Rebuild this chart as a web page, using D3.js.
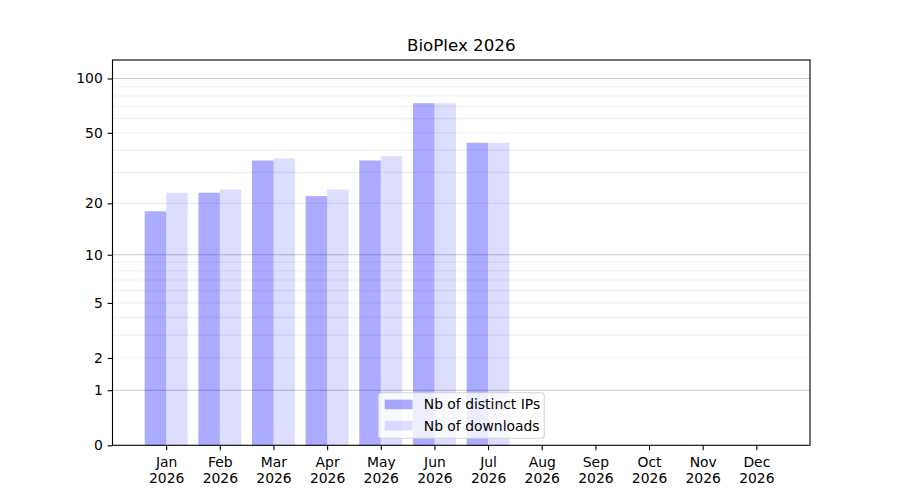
<!DOCTYPE html>
<html>
<head>
<meta charset="utf-8">
<script src="https://cdn.jsdelivr.net/npm/d3@7"></script>
<style>
  body { margin: 0; background: #fff; }
  text { font-family: "DejaVu Sans", sans-serif; }
</style>
</head>
<body>
<div id="chart"></div>
<script>
// Data
const months = ["Jan", "Feb", "Mar", "Apr", "May", "Jun", "Jul", "Aug", "Sep", "Oct", "Nov", "Dec"];
const year = "2026";
const distinctIPs = [18, 23, 35, 22, 35, 73, 44];
const downloads = [23, 24, 36, 24, 37, 73, 44];
const yTicks = [0, 1, 2, 5, 10, 20, 50, 100];
const seriesNames = ["Nb of distinct IPs", "Nb of downloads"];

const W = 900, H = 500;
const margin = { top: 60, right: 90, bottom: 54.7, left: 112.5 };
const width = W - margin.left - margin.right;
const height = H - margin.top - margin.bottom;
const fs = 13.9;

const svg = d3.select("#chart")
    .append("svg")
    .attr("width", W)
    .attr("height", H);

const g = svg.append("g")
    .attr("transform", `translate(${margin.left}, ${margin.top})`);

// Scales: x is month index, y is log10(1 + v)
const xScale = d3.scaleLinear()
    .domain([-1, 12])
    .range([0, width]);

const yScale = d3.scaleSymlog()
    .constant(1)
    .domain([0, 126.5])
    .range([height, 0]);

// Gridlines: major decades darker, minor lighter
const minor = [];
[1, 10, 100].forEach(d => { for (let m = 2; m <= 9; m++) { if (d * m < 126) minor.push(d * m); } });
g.append("g").selectAll("line")
    .data(minor)
    .enter()
    .append("line")
    .attr("x1", 0).attr("x2", width)
    .attr("y1", d => yScale(d)).attr("y2", d => yScale(d))
    .attr("stroke", "#b0b0b0")
    .attr("stroke-opacity", 0.2)
    .attr("stroke-width", 1.1);

g.append("g").selectAll("line")
    .data([1, 10, 100])
    .enter()
    .append("line")
    .attr("x1", 0).attr("x2", width)
    .attr("y1", d => yScale(d)).attr("y2", d => yScale(d))
    .attr("stroke", "#b0b0b0")
    .attr("stroke-opacity", 0.7)
    .attr("stroke-width", 1.1);

// Bars
const barW = 0.4;
g.selectAll(".barIP")
    .data(distinctIPs)
    .enter()
    .append("rect")
    .attr("class", "barIP")
    .attr("x", (d, i) => xScale(i - barW))
    .attr("width", xScale(barW) - xScale(0))
    .attr("y", d => yScale(d))
    .attr("height", d => yScale(0) - yScale(d))
    .attr("fill", "blue")
    .attr("fill-opacity", 0.33);

g.selectAll(".barDL")
    .data(downloads)
    .enter()
    .append("rect")
    .attr("class", "barDL")
    .attr("x", (d, i) => xScale(i))
    .attr("width", xScale(barW) - xScale(0))
    .attr("y", d => yScale(d))
    .attr("height", d => yScale(0) - yScale(d))
    .attr("fill", "blue")
    .attr("fill-opacity", 0.135);

// Axes
const xAxis = g.append("g")
    .attr("transform", `translate(0, ${height})`)
    .call(d3.axisBottom(xScale)
        .tickValues(d3.range(months.length))
        .tickFormat("")
        .tickSize(4.86)
        .tickSizeOuter(0));

xAxis.selectAll(".tick").each(function(d) {
    const t = d3.select(this).append("text")
        .attr("fill", "black")
        .attr("text-anchor", "middle")
        .style("font-size", fs + "px");
    t.append("tspan").attr("x", 0).attr("y", 21.5).text(months[d]);
    t.append("tspan").attr("x", 0).attr("y", 37.5).text(year);
});

const yAxis = g.append("g")
    .call(d3.axisLeft(yScale)
        .tickValues(yTicks)
        .tickFormat(d3.format("d"))
        .tickSize(4.86)
        .tickPadding(4.86)
        .tickSizeOuter(0));

[xAxis, yAxis].forEach(a => {
    a.select(".domain").remove();
    a.selectAll(".tick line").attr("stroke", "black").attr("stroke-width", 1.1);
    a.selectAll(".tick text").style("font-size", fs + "px").attr("fill", "black")
        .style("font-family", "'DejaVu Sans', sans-serif");
});

// Spines
g.append("rect")
    .attr("x", 0).attr("y", 0)
    .attr("width", width).attr("height", height)
    .attr("fill", "none")
    .attr("stroke", "black")
    .attr("stroke-width", 1.1);

// Title
g.append("text")
    .attr("x", width / 2)
    .attr("y", -8.8)
    .attr("text-anchor", "middle")
    .style("font-size", "16.7px")
    .text("BioPlex " + year);

// Legend, lower center
const legW = 166, legH = 45.5;
const legend = g.append("g")
    .attr("transform", `translate(${width / 2 - legW / 2}, ${height - 7 - legH})`);

legend.append("rect")
    .attr("width", legW).attr("height", legH)
    .attr("rx", 2.8)
    .attr("fill", "white")
    .attr("fill-opacity", 0.8)
    .attr("stroke", "#cccccc")
    .attr("stroke-opacity", 0.8)
    .attr("stroke-width", 1.1);

const legOpacity = [0.33, 0.135];
seriesNames.forEach((name, i) => {
    legend.append("rect")
        .attr("x", 6.5)
        .attr("y", 6.8 + i * 21.2)
        .attr("width", 27.8)
        .attr("height", 9.7)
        .attr("fill", "blue")
        .attr("fill-opacity", legOpacity[i]);

    legend.append("text")
        .attr("x", 45.5)
        .attr("y", 16.7 + i * 21.2)
        .style("font-size", fs + "px")
        .attr("fill", "black")
        .text(name);
});
</script>
</body>
</html>
